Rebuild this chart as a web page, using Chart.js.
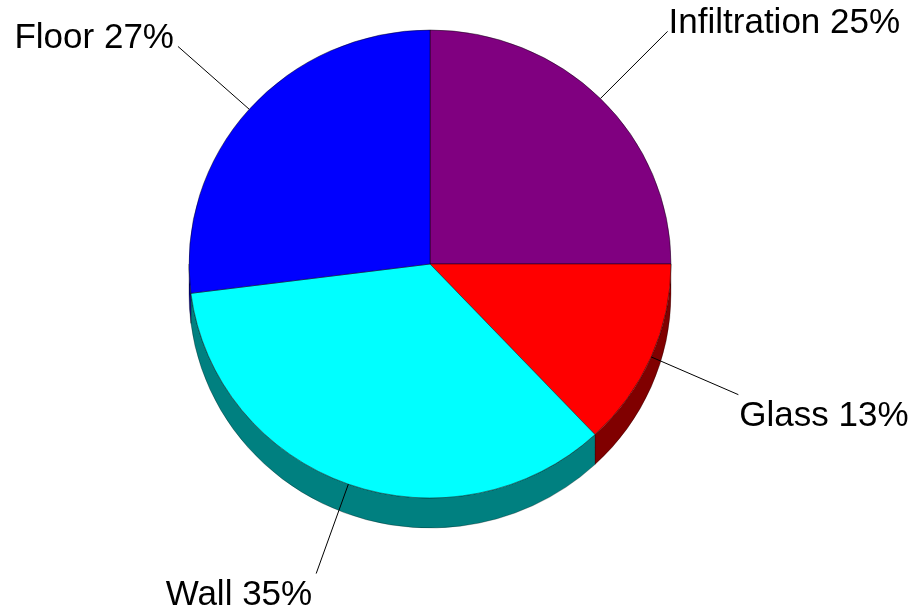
<!DOCTYPE html>
<html><head><meta charset="utf-8">
<script src="https://cdn.jsdelivr.net/npm/chart.js@4.4.1/dist/chart.umd.min.js"></script>
<style>html,body{margin:0;padding:0;background:#fff}#wrap{width:917px;height:615px;position:relative}</style>
</head><body><div id="wrap"><canvas id="c" width="917" height="615" style="width:917px;height:615px"></canvas></div>
<script>
const categories = ['Infiltration', 'Glass', 'Wall', 'Floor'];
const values = [25, 13, 35, 27];
const topColors = ['#800080', '#FF0000', '#00FFFF', '#0000FF'];
const sideColors = ['#400040', '#800000', '#008080', '#000080'];

const RX = 241, SY = 234 / 241, DEPTH = 30, LEAD = 95;
const FONT = '35px "Liberation Sans", Arial, sans-serif';

const pie3d = {
  id: 'pie3d',
  beforeDatasetsDraw(chart) {
    const ctx = chart.ctx;
    const meta = chart.getDatasetMeta(0);
    const cx = meta.data[0].x, cy = meta.data[0].y;
    ctx.save();
    ctx.translate(cx, cy); ctx.scale(1, SY); ctx.translate(-cx, -cy);
    const d = DEPTH / SY;
    meta.data.forEach((arc, i) => {
      const s = Math.max(arc.startAngle, 0), e = Math.min(arc.endAngle, Math.PI);
      if (e <= s) return;
      const r = arc.outerRadius;
      ctx.beginPath();
      ctx.arc(cx, cy, r, s, e);
      ctx.arc(cx, cy + d, r, e, s, true);
      ctx.closePath();
      ctx.fillStyle = sideColors[i];
      ctx.fill();
      ctx.lineWidth = 0.8;
      ctx.strokeStyle = 'rgba(0,0,0,0.35)';
      ctx.stroke();
    });
  },
  afterDatasetsDraw(chart) {
    const ctx = chart.ctx;
    ctx.restore();
    const meta = chart.getDatasetMeta(0);
    ctx.save();
    ctx.font = FONT;
    ctx.fillStyle = '#000';
    ctx.strokeStyle = '#000';
    ctx.lineWidth = 1;
    meta.data.forEach((arc, i) => {
      const mid = (arc.startAngle + arc.endAngle) / 2;
      const c = Math.cos(mid), s = Math.sin(mid);
      const x0 = arc.x + arc.outerRadius * c, y0 = arc.y + arc.outerRadius * SY * s;
      const x1 = x0 + LEAD * c, y1 = y0 + LEAD * s;
      ctx.beginPath(); ctx.moveTo(x0, y0); ctx.lineTo(x1, y1); ctx.stroke();
      const txt = categories[i] + ' ' + values[i] + '%';
      ctx.textAlign = c >= 0 ? 'left' : 'right';
      ctx.textBaseline = 'alphabetic';
      const tx = c >= 0 ? x1 + 1 : x1 - 4;
      const ty = s < 0 ? y1 + 2 : y1 + 31;
      ctx.fillText(txt, tx, ty);
    });
    ctx.restore();
  }
};

new Chart(document.getElementById('c'), {
  type: 'pie',
  data: {
    labels: categories,
    datasets: [{
      data: values,
      backgroundColor: topColors,
      borderColor: 'rgba(0,0,0,0.45)',
      borderWidth: 1,
      radius: RX,
      clip: false
    }]
  },
  options: {
    responsive: false,
    maintainAspectRatio: false,
    devicePixelRatio: 1,
    animation: false,
    layout: { padding: { left: 0, right: 57, top: 20, bottom: 107 } },
    plugins: { legend: { display: false }, tooltip: { enabled: false } },
    events: []
  },
  plugins: [pie3d]
});
</script>
</body></html>
